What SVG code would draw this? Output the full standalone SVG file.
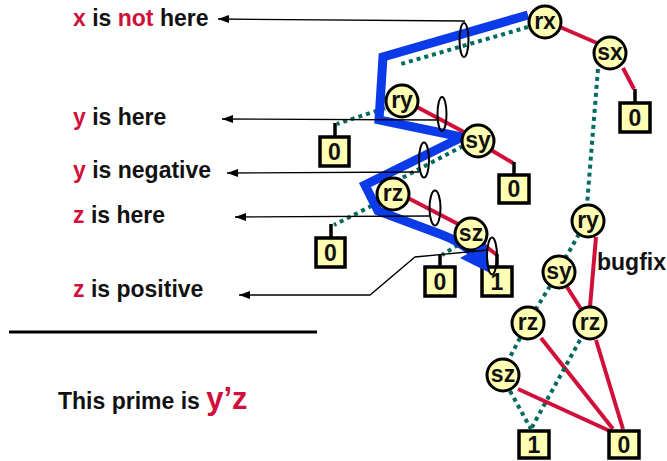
<svg xmlns="http://www.w3.org/2000/svg" width="667" height="461" viewBox="0 0 667 461">
  <defs>
    <style>
      text { font-family: "Liberation Sans", Arial, sans-serif; font-weight: bold; }
      .lbl { font-size: 23px; fill: #111; }
      .hi { fill: #d0103a; }
      .node circle { fill: #ffffb3; stroke: #000; stroke-width: 3; }
      .node text { font-size: 23px; text-anchor: middle; fill: #111; }
      .term rect { fill: #ffffb3; stroke: #000; stroke-width: 3.5; }
      .term line { stroke: #000; stroke-width: 3.5; }
      .term text { font-size: 23px; text-anchor: middle; fill: #111; }
      .hi-edge { stroke: #d0103a; stroke-width: 4; fill: none; }
      .lo-edge { stroke: #006b5e; stroke-width: 4; stroke-dasharray: 4 4; fill: none; }
      .callout { stroke: #000; stroke-width: 1.3; fill: none; marker-end: url(#tip); }
      .ring { fill: none; stroke: #000; stroke-width: 2; }
      .trail { stroke: #0b3be8; stroke-width: 9; fill: none; stroke-linejoin: miter; }
    </style>
    <marker id="tip" markerWidth="12" markerHeight="10" refX="11" refY="5" orient="auto" markerUnits="userSpaceOnUse">
      <path d="M0,1 L11,5 L0,9 Z" fill="#000"/>
    </marker>
  </defs>

  <!-- left-hand labels -->
  <text class="lbl" x="73" y="26"><tspan class="hi">x</tspan> is <tspan class="hi">not</tspan> here</text>
  <text class="lbl" x="73" y="125"><tspan class="hi">y</tspan> is here</text>
  <text class="lbl" x="73" y="178"><tspan class="hi">y</tspan> is negative</text>
  <text class="lbl" x="73" y="223"><tspan class="hi">z</tspan> is here</text>
  <text class="lbl" x="73" y="297"><tspan class="hi">z</tspan> is positive</text>
  <line x1="9" y1="332" x2="317" y2="332" stroke="#000" stroke-width="3"/>
  <text class="lbl" x="58" y="409">This prime is <tspan class="hi" font-size="31">y’z</tspan></text>
  <text class="lbl" x="597" y="270" font-size="22">bugfix</text>

  <!-- edges -->
  <g id="connectors">
    <!-- upper diagram -->
    <line class="hi-edge" x1="560" y1="27" x2="597" y2="43"/>
    <line class="hi-edge" x1="623" y1="68" x2="634" y2="89"/>
    <line class="lo-edge" x1="528" y1="27" x2="401" y2="64"/>
    <line class="lo-edge" x1="385" y1="108" x2="337" y2="124"/>
    <line class="hi-edge" x1="417" y1="107" x2="464" y2="132"/>
    <line class="hi-edge" x1="491" y1="150" x2="513" y2="163"/>
    <line class="lo-edge" x1="463" y1="146" x2="400" y2="179"/>
    <line class="lo-edge" x1="379" y1="202" x2="334" y2="225"/>
    <line class="hi-edge" x1="408" y1="198" x2="458" y2="224"/>
    <line class="lo-edge" x1="458" y1="245" x2="442" y2="255"/>
    <line class="hi-edge" x1="484" y1="245" x2="497" y2="255"/>
    <!-- lower diagram -->
    <line class="lo-edge" x1="598" y1="69" x2="587" y2="205"/>
    <line class="lo-edge" x1="579" y1="234" x2="566" y2="257"/>
    <line class="hi-edge" x1="596" y1="237" x2="590" y2="307"/>
    <line class="lo-edge" x1="550" y1="286" x2="536" y2="309"/>
    <line class="hi-edge" x1="567" y1="287" x2="581" y2="309"/>
    <line class="lo-edge" x1="520" y1="338" x2="509" y2="359"/>
    <line class="hi-edge" x1="541" y1="338" x2="613" y2="429"/>
    <line class="hi-edge" x1="596" y1="340" x2="623" y2="429"/>
    <line class="lo-edge" x1="580" y1="340" x2="531" y2="429"/>
    <line class="lo-edge" x1="510" y1="391" x2="531" y2="429"/>
    <line class="hi-edge" x1="518" y1="389" x2="612" y2="432"/>
  </g>

  <!-- evaluation path -->
  <path class="trail" d="M528,15 L383,57 L379,120 L462,137 L365,185 L378,211 L440,234 Q462,242 476,256"/>

  <!-- decision nodes -->
  <g id="n-rx" class="node"><circle cx="545" cy="22" r="16"/><text x="545" y="29">rx</text></g>
  <g id="n-sx" class="node"><circle cx="610" cy="53" r="16"/><text x="610" y="60">sx</text></g>
  <g id="n-ry1" class="node"><circle cx="402" cy="101" r="16"/><text x="402" y="108">ry</text></g>
  <g id="n-sy1" class="node"><circle cx="478" cy="141" r="16"/><text x="478" y="148">sy</text></g>
  <g id="n-rz1" class="node"><circle cx="393" cy="194" r="16"/><text x="393" y="201">rz</text></g>
  <g id="n-sz1" class="node"><circle cx="471" cy="234" r="16"/><text x="471" y="241">sz</text></g>
  <g id="n-ry2" class="node"><circle cx="588" cy="221" r="16"/><text x="588" y="228">ry</text></g>
  <g id="n-sy2" class="node"><circle cx="559" cy="272" r="16"/><text x="559" y="279">sy</text></g>
  <g id="n-rz2" class="node"><circle cx="528" cy="323" r="16"/><text x="528" y="330">rz</text></g>
  <g id="n-rz3" class="node"><circle cx="590" cy="323" r="16"/><text x="590" y="330">rz</text></g>
  <g id="n-sz2" class="node"><circle cx="503" cy="375" r="16"/><text x="503" y="382">sz</text></g>

  <!-- terminals -->
  <g id="t-sx0" class="term"><line x1="635" y1="89" x2="635" y2="103"/><rect x="620" y="103" width="30" height="29"/><text x="635" y="126">0</text></g>
  <g id="t-ry0" class="term"><line x1="335" y1="123" x2="335" y2="137"/><rect x="320" y="137" width="29" height="29"/><text x="334.5" y="160">0</text></g>
  <g id="t-sy0" class="term"><line x1="514" y1="162" x2="514" y2="175"/><rect x="499" y="175" width="30" height="28"/><text x="514" y="197">0</text></g>
  <g id="t-rz0" class="term"><line x1="331" y1="224" x2="331" y2="238"/><rect x="316" y="238" width="29" height="29"/><text x="330.5" y="261">0</text></g>
  <g id="t-sz0" class="term"><line x1="440" y1="254" x2="440" y2="267"/><rect x="425" y="267" width="30" height="29"/><text x="440" y="290">0</text></g>
  <g id="t-sz1" class="term"><line x1="497" y1="254" x2="497" y2="267"/><rect x="482" y="267" width="30" height="29"/><text x="497" y="290">1</text></g>
  <g id="t-b1" class="term"><rect x="519" y="431" width="30" height="27"/><text x="534" y="453">1</text></g>
  <g id="t-b0" class="term"><rect x="609" y="431" width="30" height="27"/><text x="624" y="453">0</text></g>

  <!-- path arrowhead, callouts and edge markers -->
  <g id="annotations">
    <polygon points="490,273 460,258 486,244" fill="#0b3be8"/>
    <polyline class="callout" points="465,21 218,19"/>
    <polyline class="callout" points="438,120 222,119"/>
    <polyline class="callout" points="419,172 227,173"/>
    <polyline class="callout" points="429,216 235,217"/>
    <polyline class="callout" points="488,250 415,257 370,295 239,295"/>
    <ellipse class="ring" cx="464" cy="40" rx="4.5" ry="17"/>
    <ellipse class="ring" cx="442" cy="114" rx="4.5" ry="17"/>
    <ellipse class="ring" cx="424" cy="160" rx="5" ry="17.5"/>
    <ellipse class="ring" cx="435" cy="208" rx="5.5" ry="17.5"/>
    <ellipse class="ring" cx="492" cy="256" rx="5" ry="18.5"/>
  </g>
</svg>
